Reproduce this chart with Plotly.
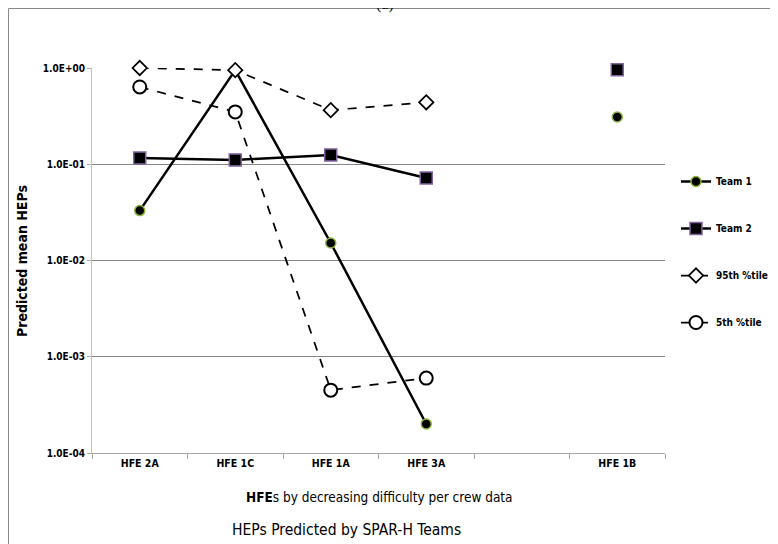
import plotly.graph_objects as go

categories = ["HFE 2A", "HFE 1C", "HFE 1A", "HFE 3A", " ", "HFE 1B"]
team1 = [0.033, 0.95, 0.0152, 0.0002, None, 0.31]
team2 = [0.116, 0.111, 0.125, 0.072, None, 0.96]
p95 = [1.0, 0.95, 0.365, 0.44, None, None]
p5 = [0.635, 0.35, 0.00045, 0.0006, None, None]
ytick_vals = [1e-4, 1e-3, 1e-2, 1e-1, 1e0]
ytick_text = ["1.0E-04", "1.0E-03", "1.0E-02", "1.0E-01", "1.0E+00"]

FONT = "Liberation Sans Narrow, DejaVu Sans Condensed, Arial Narrow, sans-serif"

# page has an 8px body margin; the figure starts at page (8, 8)
OFF = 8
W, H = 778 - OFF, 544 - OFF
L, R, T, B = 92 - OFF, 113, 68 - OFF, 91
pw, ph = W - L - R, H - T - B


def px_x(x):
    """page x pixel -> paper coordinate"""
    return (x - OFF - L) / pw


def px_y(y):
    """page y pixel -> paper coordinate"""
    return 1 - (y - OFF - T) / ph


fig = go.Figure()
fig.add_trace(go.Scatter(
    x=categories, y=team1, name="Team 1", mode="lines+markers",
    line=dict(color="black", width=2.5),
    marker=dict(symbol="circle", size=10, color="black",
                line=dict(color="#8db33a", width=1.5)),
    connectgaps=False, cliponaxis=False, legendgroup="a"))
fig.add_trace(go.Scatter(
    x=categories, y=team2, name="Team 2", mode="lines+markers",
    line=dict(color="black", width=2.5),
    marker=dict(symbol="square", size=12, color="black",
                line=dict(color="#8064a2", width=1.5)),
    connectgaps=False, cliponaxis=False, legendgroup="b"))
fig.add_trace(go.Scatter(
    x=categories, y=p95, name="95th %tile", mode="lines+markers",
    line=dict(color="black", width=1.75, dash="dash"),
    marker=dict(symbol="diamond", size=11, color="white",
                line=dict(color="black", width=1.75)),
    connectgaps=False, cliponaxis=False, legendgroup="c"))
fig.add_trace(go.Scatter(
    x=categories, y=p5, name="5th %tile", mode="lines+markers",
    line=dict(color="black", width=1.75, dash="dash"),
    marker=dict(symbol="circle", size=13, color="white",
                line=dict(color="black", width=2)),
    connectgaps=False, cliponaxis=False, legendgroup="d"))

fig.update_layout(
    width=W, height=H,
    margin=dict(l=L, r=R, t=T, b=B, autoexpand=False),
    paper_bgcolor="white", plot_bgcolor="white",
    font=dict(family=FONT, color="black", size=10),
    showlegend=True,
    legend=dict(x=px_x(676), y=px_y(167), xanchor="left", yanchor="top",
                font=dict(size=10, family=FONT, color="black", weight="bold"),
                tracegroupgap=28, bgcolor="rgba(0,0,0,0)"),
    xaxis=dict(
        type="category", categoryorder="array", categoryarray=categories,
        range=[-0.5, 5.5], showgrid=False,
        ticks="outside", tickson="boundaries", ticklen=5, tickcolor="#a6a6a6",
        showline=True, linecolor="#a6a6a6", linewidth=1,
        tickfont=dict(size=10.5, family=FONT, color="black", weight="bold"),
    ),
    yaxis=dict(
        type="log", range=[-4, 0],
        tickvals=ytick_vals, ticktext=ytick_text,
        showgrid=True, gridcolor="#888888", gridwidth=1,
        ticks="outside", ticklen=4, tickcolor="#a6a6a6",
        showline=True, linecolor="#c0c0c0", linewidth=1,
        tickfont=dict(size=10, family=FONT, color="black", weight="bold"),
        zeroline=False,
    ),
    shapes=[dict(type="rect", xref="paper", yref="paper",
                 x0=px_x(8.5), x1=px_x(900), y0=px_y(600), y1=px_y(8.5),
                 line=dict(color="#888888", width=1), fillcolor="rgba(0,0,0,0)",
                 layer="below")],
    annotations=[
        dict(text="(a)", xref="paper", yref="paper", x=px_x(385), y=px_y(15),
             xanchor="center", yanchor="bottom", showarrow=False,
             font=dict(family="Liberation Serif, Times New Roman, serif", size=16, color="black")),
        dict(text="Predicted mean HEPs", xref="paper", yref="paper",
             x=px_x(22), y=px_y(261), xanchor="center", yanchor="middle",
             textangle=-90, showarrow=False,
             font=dict(family=FONT, size=14, color="black", weight="bold")),
        dict(text="<b>HFE</b>s by decreasing difficulty per crew data", xref="paper", yref="paper",
             x=px_x(379), y=px_y(497), xanchor="center", yanchor="middle", showarrow=False,
             font=dict(family=FONT, size=13.5, color="black")),
        dict(text="HEPs Predicted by SPAR-H Teams", xref="paper", yref="paper",
             x=px_x(346), y=px_y(530), xanchor="center", yanchor="middle", showarrow=False,
             font=dict(family=FONT, size=15.5, color="black")),
    ],
)

fig.write_html("out.html")
